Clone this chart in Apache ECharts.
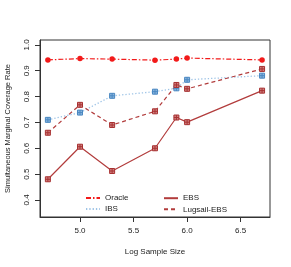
<!DOCTYPE html>
<html>
<head>
<meta charset="utf-8">
<script src="https://cdn.jsdelivr.net/npm/echarts@6/dist/echarts.min.js"></script>
<style>html,body{margin:0;padding:0;background:#fff}#c{width:291px;height:267px}</style>
</head>
<body>
<div id="c"></div>
<script>
var xLog = [4.70, 5.00, 5.30, 5.70, 5.90, 6.00, 6.70];
var oracle = [0.942, 0.947, 0.945, 0.941, 0.945, 0.949, 0.942];
var ibs = [0.710, 0.738, 0.803, 0.819, 0.832, 0.865, 0.881];
var ebs = [0.480, 0.606, 0.512, 0.600, 0.719, 0.701, 0.823];
var lugsail = [0.660, 0.768, 0.690, 0.743, 0.845, 0.830, 0.907];
var xTicks = [5.0, 5.5, 6.0, 6.5];
var yTicks = [0.4, 0.5, 0.6, 0.7, 0.8, 0.9, 1.0];

function pairs(ys){ return xLog.map(function(x,i){ return [x, ys[i]]; }); }
var font = 'Liberation Sans';
var sq = 'path://M0,0L10,0L10,10L0,10Z M5,0L5,10 M0,5L10,5';

var chart = echarts.init(document.getElementById('c'), null, {renderer:'canvas'});
chart.setOption({
  animation:false,
  textStyle:{fontFamily:font},
  grid:{left:40, right:21, top:40, bottom:50, show:true, borderColor:'#333', borderWidth:1, outerBoundsMode:'none'},
  xAxis:{type:'value', min:4.6265, max:6.774,
    name:'Log Sample Size', nameLocation:'middle', nameGap:31,
    nameTextStyle:{fontSize:8, color:'#222', fontFamily:font},
    axisLine:{show:true, lineStyle:{color:'#333'}},
    axisTick:{show:true, length:5, inside:false, customValues:xTicks, lineStyle:{color:'#333'}},
    axisLabel:{customValues:xTicks, fontSize:8, color:'#222', margin:10, formatter:function(v){return v.toFixed(1);}},
    splitLine:{show:false}},
  yAxis:{type:'value', min:0.334, max:1.019,
    name:'Simultaneous Marginal Coverage Rate', nameLocation:'middle', nameGap:28,
    nameTextStyle:{fontSize:7.5, color:'#222', fontFamily:font},
    axisLine:{show:true, lineStyle:{color:'#333'}},
    axisTick:{show:true, length:5, customValues:yTicks, lineStyle:{color:'#333'}},
    axisLabel:{customValues:yTicks, fontSize:8, color:'#222', margin:9, rotate:90, formatter:function(v){return v.toFixed(1);}},
    splitLine:{show:false}},
  legend:[
    {orient:'vertical', left:85, top:194, itemWidth:14, itemHeight:8, itemGap:2.7, padding:0,
     data:['Oracle','IBS'], textStyle:{fontSize:8, lineHeight:8, color:'#222', fontFamily:font},
     itemStyle:{opacity:0}},
    {orient:'vertical', left:163, top:194, itemWidth:14, itemHeight:8, itemGap:2.7, padding:0,
     data:['EBS','Lugsail-EBS'], textStyle:{fontSize:8, lineHeight:8, color:'#222', fontFamily:font},
     itemStyle:{opacity:0}}
  ],
  series:[
    {name:'Oracle', type:'line', data:pairs(oracle), symbol:'circle', symbolSize:5.5,
     itemStyle:{color:'#f21a1a'}, lineStyle:{color:'#f21a1a', width:1.2, type:[5,2,1.5,2]}},
    {name:'IBS', type:'line', data:pairs(ibs), symbol:sq, symbolSize:5,
     itemStyle:{color:'#8ab4dc', borderColor:'#4a88c2', borderWidth:1}, lineStyle:{color:'#9dc3e6', width:1.3, type:[1.3,2]}},
    {name:'EBS', type:'line', data:pairs(ebs), symbol:sq, symbolSize:5,
     itemStyle:{color:'#d08080', borderColor:'#a83232', borderWidth:1}, lineStyle:{color:'#b23c3c', width:1.2, type:'solid'}},
    {name:'Lugsail-EBS', type:'line', data:pairs(lugsail), symbol:sq, symbolSize:5,
     itemStyle:{color:'#d08080', borderColor:'#a83232', borderWidth:1}, lineStyle:{color:'#b23c3c', width:1.2, type:[4,3]}}
  ]
});
</script>
</body>
</html>
